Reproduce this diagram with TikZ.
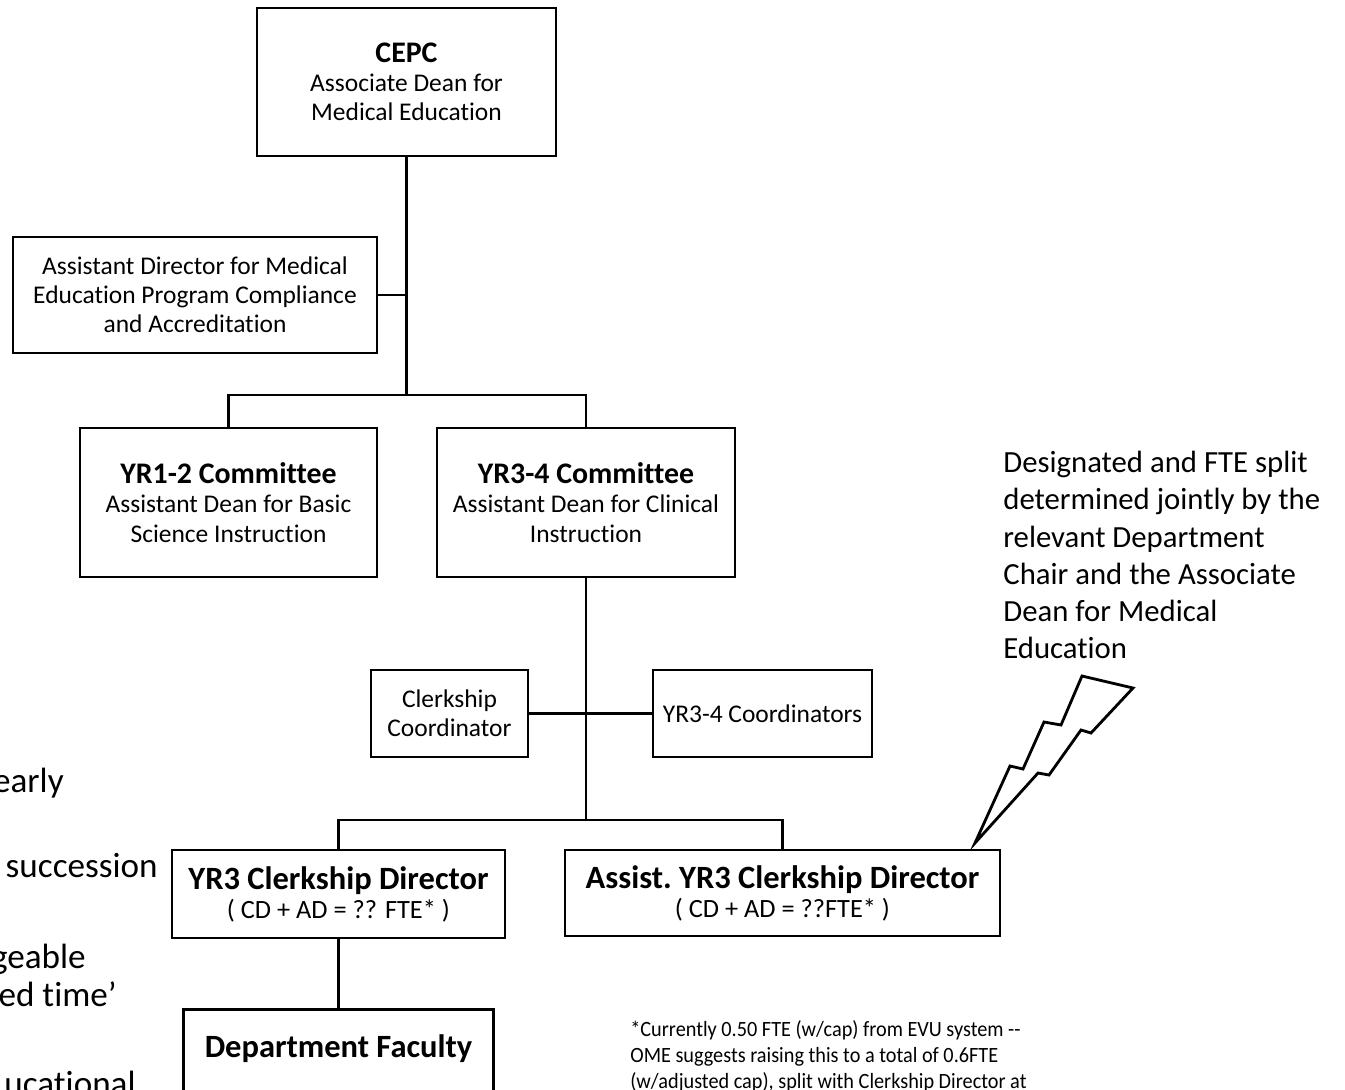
\documentclass[tikz,border=0pt]{standalone}
\usepackage{fontspec}
\setmainfont{Carlito}[Ligatures=NoCommon]
\newfontfamily\notefont{Carlito}[FakeStretch=0.93]

\tikzset{
  orgbox/.style={draw, line width=1.6pt, align=center, inner sep=0pt,
    font=\fontsize{14.5}{16.6}\selectfont},
  link/.style={line width=1.6pt},
  sidetext/.style={anchor=base east, inner sep=0pt, font=\fontsize{20}{24}\selectfont},
  notetext/.style={anchor=north west, align=left, inner sep=0pt}
}
\newcommand{\boxtitle}[2][17]{{\fontsize{#1}{#1}\selectfont\bfseries #2}}
\newcommand{\fteline}[1]{{\fontsize{15}{16}\selectfont #1}}

\begin{document}
\begin{tikzpicture}[x=0.02cm,y=-0.02cm]

    \useasboundingbox (0,0) rectangle (1345,1089);
    \clip (0,0) rectangle (1345,1089);

    % top of the chart
    \node[orgbox, minimum width=5.98cm, minimum height=2.96cm] (cepc) at (406.5,82)
      {\boxtitle{CEPC}\\Associate Dean for\\Medical Education};
    \node[orgbox, minimum width=7.28cm, minimum height=2.32cm] (asstdir) at (195,295)
      {Assistant Director for Medical\\Education Program Compliance\\and Accreditation};
    \node[orgbox, minimum width=5.94cm, minimum height=2.98cm] (yr12) at (228.5,502.5)
      {\boxtitle{YR1-2 Committee}\\Assistant Dean for Basic\\Science Instruction};
    \node[orgbox, minimum width=5.96cm, minimum height=2.98cm] (yr34) at (586,502.5)
      {\boxtitle{YR3-4 Committee}\\Assistant Dean for Clinical\\Instruction};

    % clerkship level
    \node[orgbox, minimum width=3.14cm, minimum height=1.74cm] (clerkcoord) at (449.5,713.5)
      {Clerkship\\Coordinator};
    \node[orgbox, minimum width=4.38cm, minimum height=1.74cm] (yrcoord) at (762.5,713.5)
      {YR3-4 Coordinators};
    \node[orgbox, minimum width=6.66cm, minimum height=1.76cm] (cd) at (338.5,894)
      {\boxtitle[18.5]{YR3 Clerkship Director}\\\fteline{( CD + AD = ?? FTE* )}};
    \node[orgbox, minimum width=8.7cm, minimum height=1.72cm] (acd) at (782.5,893)
      {\boxtitle[18.5]{Assist.\ YR3 Clerkship Director}\\\fteline{( CD + AD = ??FTE* )}};
    \node[orgbox, minimum width=6.2cm, anchor=north, inner ysep=0.5cm, text depth=2.2cm] (faculty) at (338.5,1008)
      {\boxtitle[18.5]{Department Faculty}};

    % connectors
    \coordinate (split1) at (406.5,395);
    \coordinate (split2) at (586,820);
    \draw[link] (cepc.south) -- (split1);
    \draw[link] (asstdir.east) -- (asstdir.east -| cepc.south);
    \draw[link] (yr12.north) |- (split1) -| (yr34.north);
    \draw[link] (yr34.south) -- (split2);
    \draw[link] (clerkcoord.east) -- (yrcoord.west);
    \draw[link] (cd.north) |- (split2) -| (acd.north);
    \draw[link] (cd.south) -- (faculty.north);

    % lightning bolt
    \draw[link, line join=miter] (975,843) -- (1010,766) -- (1023,769) -- (1044,722)
      -- (1061,725) -- (1082,676) -- (1133,688) -- (1091,733) -- (1081,730)
      -- (1049,775) -- (1038,773) -- cycle;

    % notes
    \node[notetext, font=\fontsize{17.5}{21.2}\selectfont] (fteNote) at (1003,451)
      {Designated and FTE split\\determined jointly by the\\relevant Department\\Chair and the Associate\\Dean for Medical\\Education};
    \node[notetext, font=\notefont\fontsize{12.4}{14.8}\selectfont] (evuNote) at (630,1020)
      {*Currently 0.50 FTE (w/cap) from EVU system -{}-\\OME suggests raising this to a total of 0.6FTE\\(w/adjusted cap), split with Clerkship Director at};

    % text cut off at the left edge
    \node[sidetext] (early) at (64,792) {early};
    \node[sidetext] (succ) at (158,877) {succession};
    \node[sidetext] (geable) at (86,968) {geable};
    \node[sidetext] (edtime) at (117,1006) {ed time’};
    \node[sidetext] (ucational) at (136,1095) {ucational};

  \end{tikzpicture}
\end{document}
